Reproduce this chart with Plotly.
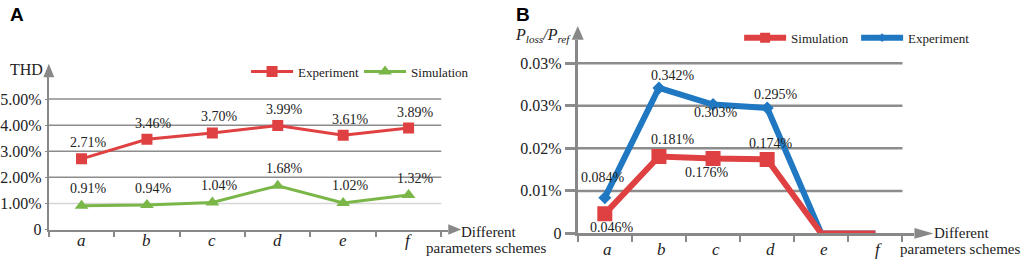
import plotly.graph_objects as go

# ---------------- data ----------------
categories = ['a', 'b', 'c', 'd', 'e', 'f']

thd_experiment = [2.71, 3.46, 3.70, 3.99, 3.61, 3.89]
thd_simulation = [0.91, 0.94, 1.04, 1.68, 1.02, 1.32]
thd_tickvals = [0, 1, 2, 3, 4, 5]
thd_ticktext = ['0', '1.00%', '2.00%', '3.00%', '4.00%', '5.00%']

loss_simulation = [0.046, 0.181, 0.176, 0.174, 0.0, 0.0]
loss_experiment = [0.084, 0.342, 0.303, 0.295, 0.0, 0.0]
loss_tickvals = [0, 0.1, 0.2, 0.3, 0.4]
loss_ticktext = ['0', '0.01%', '0.02%', '0.03%', '0.03%']

# ---------------- style ----------------
W, H = 1024, 269
SERIF = 'Liberation Serif, Times New Roman, serif'
SANS = 'Liberation Sans, Arial, sans-serif'
RED = '#df4142'
GREEN = '#7ab648'
BLUE = '#1f78c1'
AXIS = '#888888'
GRID = '#8c8c8c'
LIGHT = '#d6d6d6'


def px(x):
    return x / W


def py(y):
    return 1 - y / H


fig = go.Figure()

# ---------- Panel A ----------
fig.add_trace(go.Scatter(
    x=categories, y=thd_experiment, name='Experiment', mode='lines+markers',
    line=dict(color=RED, width=3),
    marker=dict(symbol='square', size=11, color=RED, opacity=1, line=dict(width=0)),
    xaxis='x', yaxis='y', legend='legend'))
fig.add_trace(go.Scatter(
    x=categories, y=thd_simulation, name='Simulation', mode='lines+markers',
    line=dict(color=GREEN, width=3),
    marker=dict(symbol='triangle-up', size=12, color=GREEN, opacity=1, line=dict(width=0)),
    xaxis='x', yaxis='y', legend='legend'))

# ---------- Panel B ----------
fig.add_trace(go.Scatter(
    x=categories, y=loss_experiment, name='Experiment', mode='lines+markers',
    line=dict(color=BLUE, width=6),
    marker=dict(symbol='diamond', size=[10 if v > 0 else 0 for v in loss_experiment], color=BLUE,
                opacity=1, line=dict(width=0)),
    xaxis='x2', yaxis='y2', legend='legend2', legendrank=2))
fig.add_trace(go.Scatter(
    x=categories, y=loss_simulation, name='Simulation', mode='lines+markers',
    line=dict(color=RED, width=6),
    marker=dict(symbol='square', size=[15 if v > 0 else 0 for v in loss_simulation], color=RED,
                opacity=1, line=dict(width=0)),
    xaxis='x2', yaxis='y2', legend='legend2', legendrank=1))

annotations = []
shapes = []

# data labels A
for cat, v in zip(categories, thd_experiment):
    annotations.append(dict(x=cat, y=v, xref='x', yref='y', text=f'{v:.2f}%', showarrow=False,
                            xshift=7, yshift=16, font=dict(family=SERIF, size=14, color='#222')))
for cat, v in zip(categories, thd_simulation):
    annotations.append(dict(x=cat, y=v, xref='x', yref='y', text=f'{v:.2f}%', showarrow=False,
                            xshift=7, yshift=17, font=dict(family=SERIF, size=14, color='#222')))

# data labels B
exp_shift = [(-2, 20), (14, 12), (3, -8), (9, 13)]
sim_shift = [(7, -14), (14, 17), (-6, -14), (4, 16)]
for (cat, v), (dx, dy) in zip(zip(categories, loss_experiment), exp_shift):
    annotations.append(dict(x=cat, y=v, xref='x2', yref='y2', text=f'{v:.3f}%', showarrow=False,
                            xshift=dx, yshift=dy, font=dict(family=SERIF, size=14, color='#222')))
for (cat, v), (dx, dy) in zip(zip(categories, loss_simulation), sim_shift):
    annotations.append(dict(x=cat, y=v, xref='x2', yref='y2', text=f'{v:.3f}%', showarrow=False,
                            xshift=dx, yshift=dy, font=dict(family=SERIF, size=14, color='#222')))

# category labels (italic) under each x axis
for cat in categories:
    annotations.append(dict(x=cat, y=py(249), xref='x', yref='paper', text=f'<i>{cat}</i>',
                            showarrow=False, yanchor='middle',
                            font=dict(family=SERIF, size=17, color='#222')))
    annotations.append(dict(x=cat, y=py(258), xref='x2', yref='paper', text=f'<i>{cat}</i>',
                            showarrow=False, yanchor='middle', xshift=3,
                            font=dict(family=SERIF, size=17, color='#222')))

# gridlines
for t in thd_tickvals[1:]:
    shapes.append(dict(type='line', xref='x', yref='y', x0=-0.5, x1=5.5, y0=t, y1=t,
                       line=dict(color=LIGHT if t == 1 else GRID, width=1.5), layer='below'))
for t in loss_tickvals[1:]:
    shapes.append(dict(type='line', xref='x2', yref='y2', x0=-0.5, x1=5.5, y0=t, y1=t,
                       line=dict(color=GRID, width=2.5), layer='below'))


def tri(p1, p2, p3):
    return dict(type='path', xref='paper', yref='paper', fillcolor=AXIS, line=dict(width=0),
                path=f'M{px(p1[0])},{py(p1[1])} L{px(p2[0])},{py(p2[1])} L{px(p3[0])},{py(p3[1])} Z')


# arrow heads
shapes.append(tri((45, 66), (39.5, 80), (50.5, 80)))
shapes.append(tri((459, 237.5), (446, 232), (446, 243)))
shapes.append(tri((576, 27), (570, 41), (582, 41)))
shapes.append(tri((933, 241.5), (914, 236), (914, 247)))

# text annotations (panel letters, axis titles)
annotations += [
    dict(x=px(4), y=py(15), xref='paper', yref='paper', text='<b>A</b>', showarrow=False,
         xanchor='left', yanchor='middle', font=dict(family=SANS, size=19, color='#000')),
    dict(x=px(512), y=py(15), xref='paper', yref='paper', text='<b>B</b>', showarrow=False,
         xanchor='left', yanchor='middle', font=dict(family=SANS, size=19, color='#000')),
    dict(x=px(4), y=py(72), xref='paper', yref='paper', text='THD', showarrow=False,
         xanchor='left', yanchor='middle', font=dict(family=SERIF, size=16, color='#222')),
    dict(x=px(511), y=py(37), xref='paper', yref='paper',
         text='<i>P</i><sub><i>loss</i></sub><i>/P</i><sub><i>ref</i></sub>', showarrow=False,
         xanchor='left', yanchor='middle', font=dict(family=SERIF, size=16, color='#222')),
    dict(x=px(457), y=py(240), xref='paper', yref='paper', text='Different', showarrow=False,
         xanchor='left', yanchor='middle', font=dict(family=SERIF, size=15, color='#222')),
    dict(x=px(422), y=py(257), xref='paper', yref='paper', text='parameters schemes', showarrow=False,
         xanchor='left', yanchor='middle', font=dict(family=SERIF, size=15, color='#222')),
    dict(x=px(932), y=py(241), xref='paper', yref='paper', text='Different', showarrow=False,
         xanchor='left', yanchor='middle', font=dict(family=SERIF, size=15, color='#222')),
    dict(x=px(898), y=py(258), xref='paper', yref='paper', text='parameters schemes', showarrow=False,
         xanchor='left', yanchor='middle', font=dict(family=SERIF, size=15, color='#222')),
]

xunitA = (439 - 45) / 6
xunitB = (901 - 575) / 6
yunitA = (237.5 - 102.5) / 5
yunitB = (241.5 - 65.5) / 0.4

common_x = dict(type='category', showline=True, linecolor=AXIS, linewidth=2, ticks='outside',
                tickson='boundaries', tickcolor=AXIS, tickwidth=1.5, ticklen=5, showgrid=False,
                zeroline=False, fixedrange=True, showticklabels=False)

fig.update_layout(
    width=W, height=H, margin=dict(l=0, r=0, t=0, b=0),
    paper_bgcolor='white', plot_bgcolor='rgba(0,0,0,0)',
    showlegend=True,
    xaxis=dict(common_x, domain=[px(45), px(446)], range=[-0.5, -0.5 + (446 - 45) / xunitA], anchor='y'),
    yaxis=dict(domain=[py(237.5), py(80)], range=[0, (237.5 - 80) / yunitA], anchor='x',
               tickvals=thd_tickvals, ticktext=thd_ticktext, showline=True, linecolor=AXIS,
               linewidth=2, ticks='outside', ticklen=2, tickcolor=AXIS, showgrid=False,
               zeroline=False, tickfont=dict(family=SERIF, size=16, color='#222')),
    xaxis2=dict(common_x, domain=[px(576), px(914)], range=[-0.5, -0.5 + (914 - 576) / xunitB],
                anchor='y2', linewidth=3, ticklen=6, tickwidth=2),
    yaxis2=dict(domain=[py(241.5), py(41)], range=[0, (241.5 - 41) / yunitB], anchor='x2',
                tickvals=loss_tickvals, ticktext=loss_ticktext, showline=True, linecolor=AXIS,
                linewidth=3, ticks='outside', ticklen=10, tickwidth=2.5, tickcolor=GRID,
                showgrid=False, zeroline=False, tickfont=dict(family=SERIF, size=16, color='#222')),
    legend=dict(orientation='h', x=px(243), y=py(74), xanchor='left', yanchor='middle',
                bgcolor='rgba(0,0,0,0)', itemwidth=42, font=dict(family=SERIF, size=13, color='#222'),
                entrywidth=115 - 59, entrywidthmode='pixels'),
    legend2=dict(orientation='h', x=px(738), y=py(39), xanchor='left', yanchor='middle',
                 bgcolor='rgba(0,0,0,0)', itemwidth=42, font=dict(family=SERIF, size=13, color='#222'),
                 entrywidth=120 - 60, entrywidthmode='pixels'),
    annotations=annotations,
    shapes=shapes,
)

fig.write_html('out.html', config={'displayModeBar': False},
               post_script="document.body.style.margin='0';document.body.style.overflow='hidden';")
